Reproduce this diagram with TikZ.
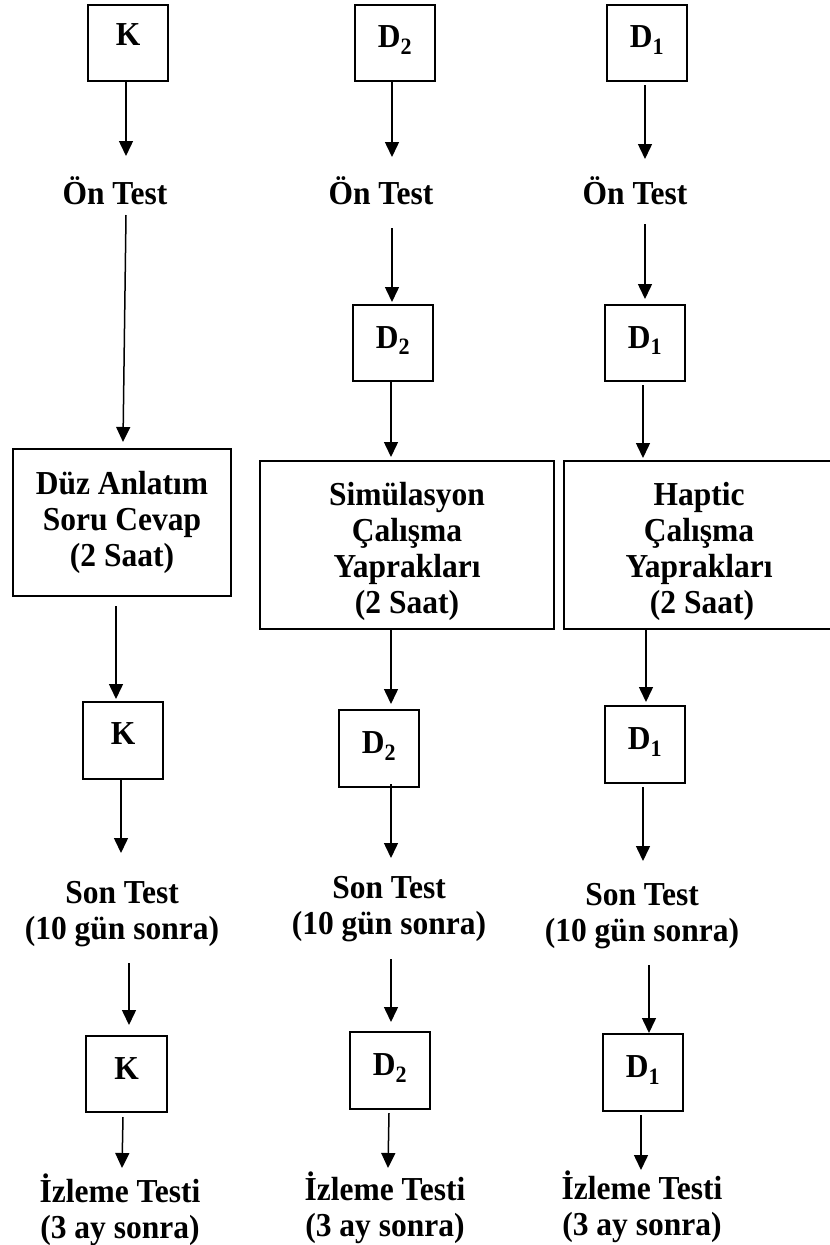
\documentclass[tikz,border=0pt]{standalone}
\usepackage{fontspec}
\setmainfont{Liberation Serif}[FakeStretch=0.94]
\usetikzlibrary{arrows.meta,calc}
\begin{document}
\begin{tikzpicture}[x=1pt,y=-1pt,
  every node/.style={font=\fontsize{33.5}{36}\selectfont\bfseries},
  box/.style={draw,line width=2pt,minimum width=80pt,minimum height=76pt,inner sep=0pt,text height=22pt,text depth=12pt},
  bigbox/.style={draw,line width=2pt,inner sep=0pt,align=center},
  lbl/.style={anchor=north,inner sep=0pt,align=center},
  arr/.style={line width=1.5pt,-{Triangle[length=15pt,width=14pt]}}]
\useasboundingbox (0,0) rectangle (830,1245);

% ---- column 1 (K) ----
\node[box,text depth=17pt] (k1) at (128,43) {K};
\node[lbl] (on1) at (115,176) {Ön Test};
\node[bigbox,minimum width=218pt,minimum height=147pt] (duz) at (122,522.5) {Düz Anlatım\\Soru Cevap\\(2 Saat)};
\node[box,minimum height=77pt,text depth=14pt] (k2) at (123,740.5) {K};
\node[lbl] (son1) at (122,881) {Son Test\\(10 gün sonra)};
\node[box,minimum width=81pt] (k3) at (126.5,1074) {K};
\node[lbl] (izl1) at (120,1174) {İzleme Testi\\(3 ay sonra)};

% ---- column 2 (D2) ----
\node[box,text depth=13pt] (d2a) at (395,43) {D\textsubscript{2}};
\node[lbl] (on2) at (381,176) {Ön Test};
\node[box] (d2b) at (393,343) {D\textsubscript{2}};
\node[bigbox,minimum width=294pt,minimum height=168pt] (sim) at (407,545) {\raisebox{-14pt}[0pt][0pt]{\begin{tabular}{@{}c@{}}Simülasyon\\Çalışma\\Yaprakları\\(2 Saat)\end{tabular}}};
\node[box,minimum height=77pt] (d2c) at (379,748.5) {D\textsubscript{2}};
\node[lbl] (son2) at (389,876) {Son Test\\(10 gün sonra)};
\node[box,minimum height=77pt] (d2d) at (390,1070.5) {D\textsubscript{2}};
\node[lbl] (izl2) at (385,1172) {İzleme Testi\\(3 ay sonra)};

% ---- column 3 (D1) ----
\node[box,text depth=13pt] (d1a) at (647,43) {D\textsubscript{1}};
\node[lbl] (on3) at (635,176) {Ön Test};
\node[box] (d1b) at (645,343) {D\textsubscript{1}};
\node[bigbox,minimum width=270pt,minimum height=168pt] (hap) at (699,545) {\raisebox{-14pt}[0pt][0pt]{\begin{tabular}{@{}c@{}}Haptic\\Çalışma\\Yaprakları\\\hspace*{6pt}(2 Saat)\end{tabular}}};
\node[box,minimum height=77pt] (d1c) at (645,744.5) {D\textsubscript{1}};
\node[lbl] (son3) at (642,883) {Son Test\\(10 gün sonra)};
\node[box,minimum height=77pt] (d1d) at (643,1072.5) {D\textsubscript{1}};
\node[lbl] (izl3) at (642,1171) {İzleme Testi\\(3 ay sonra)};

% ---- connectors column 1 ----
\draw[arr] ($(k1.south)+(-2,0)$) -- ($(on1.north)+(11,-20)$);
\draw[arr] ($(on1.north)+(11,39)$) -- ($(duz.north)+(1,-6)$);
\draw[arr] ($(duz.south)+(-6,9)$) -- ($(k2.north)+(-7,-2)$);
\draw[arr] ($(k2.south)+(-2,0)$) -- ($(son1.north)+(-1,-28)$);
\draw[arr] ($(son1.north)+(7,82)$) -- ($(k3.north)+(2.5,-10)$);
\draw[arr] ($(k3.south)+(-3.5,4)$) -- ($(izl1.north)+(2,-6)$);

% ---- connectors column 2 ----
\draw[arr] ($(d2a.south)+(-3,0)$) -- ($(on2.north)+(11,-19)$);
\draw[arr] ($(on2.north)+(11,52)$) -- ($(d2b.north)+(-1,-2)$);
\draw[arr] ($(d2b.south)+(-2,0)$) -- ($(sim.north)+(-16,-3)$);
\draw[arr] ($(sim.south)+(-16,0)$) -- ($(d2c.north)+(12,-5)$);
\draw[arr] ($(d2c.south)+(12,-4)$) -- ($(son2.north)+(2,-18)$);
\draw[arr] ($(son2.north)+(2,83)$) -- ($(d2d.north)+(1,-9)$);
\draw[arr] ($(d2d.south)+(-1,3)$) -- ($(izl2.north)+(3,-4)$);

% ---- connectors column 3 ----
\draw[arr] ($(d1a.south)+(-2,3)$) -- ($(on3.north)+(10,-17)$);
\draw[arr] ($(on3.north)+(10,48)$) -- ($(d1b.north)+(0,-5)$);
\draw[arr] ($(d1b.south)+(-2,3)$) -- ($(hap.north)+(-56,-2)$);
\draw[arr] ($(hap.south)+(-53,-2)$) -- ($(d1c.north)+(1,-3)$);
\draw[arr] ($(d1c.south)+(-2,3)$) -- ($(son3.north)+(1,-22)$);
\draw[arr] ($(son3.north)+(7,82)$) -- ($(d1d.north)+(6,0)$);
\draw[arr] ($(d1d.south)+(-2,3)$) -- ($(izl3.north)+(-1,-1)$);
\end{tikzpicture}
\end{document}
